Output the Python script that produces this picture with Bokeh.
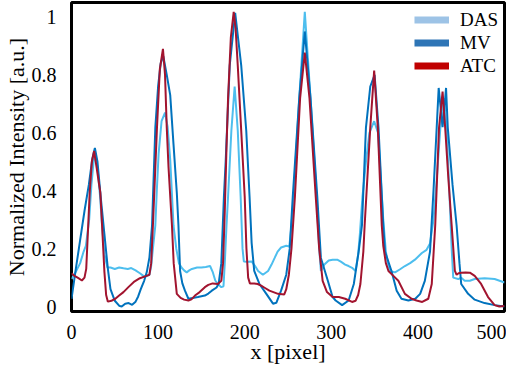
from bokeh.plotting import figure
from bokeh.models import Legend, LegendItem
from bokeh.embed import file_html
from bokeh.resources import INLINE

# ---- data ----
das_x = [0, 5, 10, 14, 16.6, 20.4, 23, 25.5, 27.5, 30, 33, 35.3, 38, 41.5, 45, 50, 55, 60, 65, 69, 74, 79, 83, 87,
         90, 92, 94, 96.8, 98.5, 100.6, 104, 108, 111, 114, 117.8, 121, 124, 127, 130, 133, 136, 139, 145, 150, 155,
         160, 163, 166, 169, 173, 175.5, 177, 179, 180.8, 184.6, 188.4, 192, 195.3, 197.5, 199, 203, 208, 212, 215.5,
         221, 227, 231, 234.6, 238, 242, 248, 251.5, 254, 256.5, 263, 269.4, 276, 283, 286, 288, 292, 297, 301.5,
         306.8, 311, 316, 320, 324, 328, 331, 333, 336, 340, 344, 349.5, 354, 357, 360, 363, 366, 368, 373.6, 379,
         385, 391, 396.6, 404.6, 410, 414, 418, 422, 426, 430, 433, 436, 439, 440.8, 446.5, 450, 454, 460, 465.6,
         477, 488.6, 500]
das_y = [0.095, 0.12, 0.15, 0.19, 0.21, 0.30, 0.42, 0.50, 0.53, 0.48, 0.38, 0.28, 0.18, 0.135, 0.135, 0.13, 0.135,
         0.132, 0.13, 0.133, 0.125, 0.115, 0.106, 0.105, 0.11, 0.14, 0.20, 0.28, 0.40, 0.528, 0.64, 0.67, 0.62, 0.507,
         0.28, 0.20, 0.15, 0.135, 0.125, 0.118, 0.125, 0.13, 0.135, 0.135, 0.137, 0.14, 0.12, 0.09, 0.078, 0.067,
         0.07, 0.15, 0.28, 0.38, 0.607, 0.76, 0.607, 0.38, 0.20, 0.156, 0.155, 0.156, 0.14, 0.123, 0.11, 0.123, 0.145,
         0.168, 0.19, 0.204, 0.21, 0.207, 0.28, 0.38, 0.72, 1.018, 0.72, 0.38, 0.20, 0.123, 0.145, 0.159, 0.162,
         0.162, 0.155, 0.145, 0.14, 0.134, 0.123, 0.18, 0.25, 0.38, 0.50, 0.60, 0.64, 0.60, 0.45, 0.30, 0.19, 0.14,
         0.123, 0.118, 0.128, 0.14, 0.15, 0.162, 0.185, 0.196, 0.218, 0.30, 0.45, 0.62, 0.72, 0.62, 0.42, 0.20, 0.10,
         0.095, 0.10, 0.089, 0.089, 0.095, 0.098, 0.095, 0.083]

mv_x = [0, 5, 10, 15, 20, 24, 27, 30, 34, 38, 42, 45, 50, 55, 58, 62, 66, 70, 74, 77, 80, 84, 87, 90, 93, 94,
        96.8, 100, 103, 106, 110, 114, 117.8, 121.6, 123.5, 125.4, 128, 131, 135, 140, 146, 154, 158, 162, 167.5,
        170, 173, 176, 178, 182.7, 189, 196, 201.8, 205.6, 208, 211, 217, 225, 232.7, 236.5, 242, 248, 252, 255.5,
        263, 269.4, 276, 283.8, 288, 296, 301.5, 305, 312.5, 320, 326, 331.6, 335.4, 340, 345, 350, 354.5, 360, 362,
        369.5, 375.5, 381, 389, 397, 402.6, 408, 414, 418, 421.7, 424, 426.5, 428.5, 430.5, 432.5, 434.5, 440,
        444.7, 448, 450, 458, 465.6, 477, 488.6, 500]
mv_y = [0.027, 0.13, 0.23, 0.33, 0.42, 0.51, 0.548, 0.50, 0.37, 0.25, 0.13, 0.06, 0.02, 0.003, 0.0, 0.01, 0.012,
        0.006, 0.017, 0.035, 0.06, 0.09, 0.12, 0.17, 0.28, 0.37, 0.618, 0.76, 0.84, 0.865, 0.80, 0.73, 0.56, 0.393,
        0.28, 0.123, 0.08, 0.055, 0.027, 0.03, 0.033, 0.038, 0.045, 0.055, 0.066, 0.08, 0.15, 0.38, 0.50, 0.832,
        1.014, 0.832, 0.607, 0.38, 0.22, 0.123, 0.078, 0.044, 0.01, 0.013, 0.055, 0.11, 0.20, 0.38, 0.72, 0.95,
        0.72, 0.38, 0.168, 0.089, 0.033, 0.021, 0.005, 0.021, 0.078, 0.19, 0.28, 0.618, 0.76, 0.80, 0.618, 0.28,
        0.19, 0.123, 0.055, 0.027, 0.021, 0.027, 0.044, 0.089, 0.19, 0.40, 0.618, 0.755, 0.68, 0.62, 0.68, 0.755,
        0.618, 0.42, 0.28, 0.15, 0.078, 0.044, 0.024, 0.012, 0.005, 0.0]

atc_x = [0, 4, 8, 12, 15, 17, 19.3, 21, 23.5, 26.1, 29, 33.3, 35.3, 38, 40, 42, 46, 50.6, 55, 60, 66, 72, 79, 86.6,
         90, 92, 94, 95.6, 98.7, 102, 105.6, 108, 110, 112, 116, 118, 121.6, 126, 130, 135, 138.5, 142.6, 148, 154,
         158, 163, 169, 173, 175, 177, 179, 180.8, 184, 187.3, 189.5, 192, 198, 200, 202, 204, 206, 211, 215, 219,
         223, 228.5, 238.5, 245.7, 248, 251, 254, 258, 264, 269.4, 274.8, 282, 286, 290, 295, 301.5, 308.7, 316,
         324, 328, 331, 333.6, 337, 338.5, 345, 349.5, 353.7, 358.3, 360, 363, 366, 371.7, 377.4, 385, 392.7, 398.4,
         405, 412, 416, 420, 424.4, 428.5, 431.5, 435, 439, 442.7, 444.7, 447, 450, 455, 460, 465.6, 473, 481,
         488.6, 494, 500]
atc_y = [0.115, 0.105, 0.098, 0.09, 0.10, 0.13, 0.28, 0.393, 0.50, 0.537, 0.48, 0.393, 0.28, 0.12, 0.04, 0.017,
         0.02, 0.027, 0.038, 0.05, 0.068, 0.085, 0.098, 0.106, 0.11, 0.15, 0.28, 0.393, 0.618, 0.82, 0.89, 0.80,
         0.618, 0.483, 0.28, 0.15, 0.044, 0.03, 0.024, 0.021, 0.025, 0.038, 0.05, 0.067, 0.075, 0.08, 0.078, 0.089,
         0.15, 0.33, 0.55, 0.72, 0.93, 1.018, 0.96, 0.832, 0.494, 0.38, 0.20, 0.10, 0.08, 0.08, 0.078, 0.072, 0.065,
         0.055, 0.044, 0.042, 0.06, 0.11, 0.20, 0.38, 0.72, 0.877, 0.72, 0.38, 0.20, 0.089, 0.05, 0.033, 0.033,
         0.027, 0.016, 0.02, 0.04, 0.078, 0.19, 0.28, 0.618, 0.815, 0.618, 0.28, 0.21, 0.15, 0.123, 0.106, 0.089,
         0.044, 0.027, 0.021, 0.016, 0.027, 0.078, 0.28, 0.618, 0.742, 0.618, 0.45, 0.28, 0.123, 0.11, 0.115, 0.117,
         0.118, 0.117, 0.106, 0.078, 0.033, 0.005, 0.0, 0.002]

series_names = ["DAS", "MV", "ATC"]
x_ticks = [0, 100, 200, 300, 400, 500]
y_ticks = [0, 0.2, 0.4, 0.6, 0.8, 1]
y_tick_labels = ["0", "0.2", "0.4", "0.6", "0.8", "1"]
x_title = "x [pixel]"
y_title = "Normalized Intensity [a.u.]"

FONT = "Liberation Serif"

p = figure(width=506, height=366, x_range=(0, 500), y_range=(-0.017, 1.05),
           output_backend="svg", toolbar_location=None,
           min_border_left=66, min_border_right=2, min_border_top=2, min_border_bottom=50)
p.grid.visible = False
p.outline_line_color = "black"
p.outline_line_width = 3
p.background_fill_color = "white"
p.border_fill_color = "white"

p.line(das_x, das_y, color="#4DBEEE", line_width=2)
p.line(mv_x, mv_y, color="#0072BD", line_width=2)
p.line(atc_x, atc_y, color="#A2142F", line_width=2)

# legend swatches (single-point lines draw nothing in the plot, only the legend sample)
d1 = p.line(das_x[:1], das_y[:1], color="#9DC3E6", line_width=7)
d2 = p.line(mv_x[:1], mv_y[:1], color="#2E75B6", line_width=7)
d3 = p.line(atc_x[:1], atc_y[:1], color="#C00000", line_width=7)
legend = Legend(items=[LegendItem(label=series_names[0], renderers=[d1]),
                       LegendItem(label=series_names[1], renderers=[d2]),
                       LegendItem(label=series_names[2], renderers=[d3])],
                location="top_right", border_line_color=None, background_fill_alpha=0,
                padding=10, margin=6, spacing=0, glyph_width=35, glyph_height=23,
                label_height=23, label_standoff=11,
                label_text_font=FONT, label_text_font_size="19px", label_text_color="black")
p.add_layout(legend)

p.xaxis.ticker = x_ticks
p.yaxis.ticker = y_ticks
p.yaxis.major_label_overrides = dict(zip(y_ticks, y_tick_labels))
for ax in (p.xaxis, p.yaxis):
    ax.axis_line_color = None
    ax.major_tick_line_color = None
    ax.minor_tick_line_color = None
    ax.major_label_text_font = FONT
    ax.major_label_text_font_size = "20px"
    ax.major_label_text_color = "black"
    ax.axis_label_text_font = FONT
    ax.axis_label_text_font_size = "22px"
    ax.axis_label_text_font_style = "normal"
    ax.axis_label_text_color = "black"
p.xaxis.axis_label = x_title
p.yaxis.axis_label = y_title
p.xaxis.major_label_standoff = 7
p.xaxis.axis_label_standoff = -3
p.yaxis.major_label_standoff = 9
p.yaxis.axis_label_standoff = 0

open("out.html", "w").write(file_html(p, INLINE))
